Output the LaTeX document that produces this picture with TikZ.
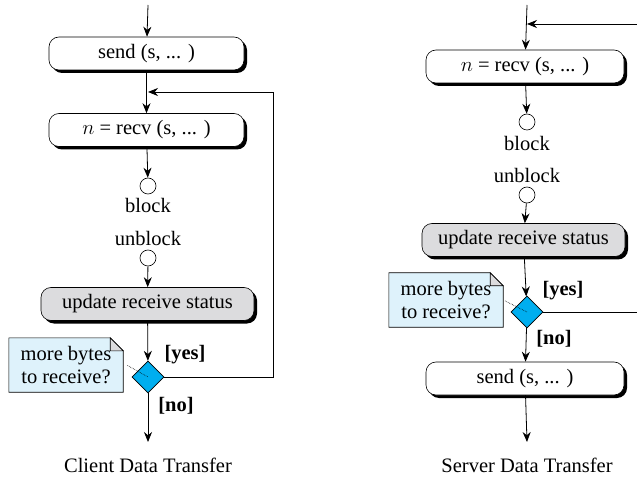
\documentclass[tikz,border=0pt]{standalone}
\usepackage{fontspec}
\setmainfont{Liberation Serif}
\usetikzlibrary{arrows.meta,shapes.geometric,shadows,backgrounds}
\definecolor{diamondblue}{RGB}{0,174,239}
\definecolor{notebg}{RGB}{222,242,251}
\definecolor{boxgrey}{RGB}{220,220,222}
\begin{document}
\begin{tikzpicture}[x=1pt,y=-1pt,font=\fontsize{20.5}{23}\selectfont,>={Stealth[length=10pt,width=8pt]},
  call/.style={draw,semithick,rounded corners=10pt,fill=white,minimum width=195pt,minimum height=33pt,inner sep=0pt,
    general shadow={fill=black,shadow xshift=3pt,shadow yshift=-3pt}},
  greycall/.style={call,fill=boxgrey},
  pin/.style={draw,semithick,circle,minimum size=16pt,inner sep=0pt,fill=white},
  choice/.style={draw,semithick,diamond,fill=diamondblue,minimum size=32pt,inner sep=0pt},
  note/.style={align=center,minimum width=114pt,minimum height=54pt,inner sep=0pt},
  flow/.style={->,thick},
  hint/.style={densely dotted,semithick}]
\useasboundingbox (0,0) rectangle (637,478);
% client side
\coordinate (c0) at (148,5);
\node[call] (csend) at (146.5,53.5) {send (s, ... )};
\node[call] (crecv) at (146.5,130) {$n$ = recv (s, ... )};
\node[pin] (cblk) at (148,186) {};
\node (cblktxt) at (148,205) {block};
\node (cublktxt) at (148,238) {unblock};
\node[pin] (cublk) at (148,258) {};
\node[greycall,minimum width=213pt] (cupd) at (147.5,304) {update receive status};
\node[choice] (cq) at (148,377) {};
\node[note] (cnote) at (66,365) {more bytes\\to receive?};
\coordinate (cend) at (148,442);
\coordinate (cjoin) at (148,92);
\coordinate (cloop) at (273,92);
\node[font=\fontsize{20.5}{23}\selectfont\bfseries] (cyes) at (185,355) {[yes]};
\node[font=\fontsize{20.5}{23}\selectfont\bfseries] (cno) at (176,406) {[no]};
\node (ccap) at (148,465) {Client Data Transfer};
\draw[flow] (c0) -- (csend);
\draw[flow] (csend) -- (crecv);
\draw[flow] (crecv) -- (cblk);
\draw[flow] (cublk) -- (cupd);
\draw[flow] (cupd) -- (cq);
\draw[flow] (cq) -- (cend);
\draw[flow] (cq.east) -| (cloop) -- (cjoin);
\draw[hint,shorten <=5pt] (cnote.east) ++(0,-2) -- (cq.center);
% server side
\coordinate (s0) at (527,5);
\node[call,minimum width=198pt] (srecv) at (525,66.5) {$n$ = recv (s, ... )};
\node[pin] (sblk) at (527,122) {};
\node (sblktxt) at (527,143) {block};
\node (sublktxt) at (527,175) {unblock};
\node[pin] (sublk) at (527,195) {};
\node[greycall,minimum width=203pt] (supd) at (523.5,240) {update receive status};
\node[choice] (sq) at (527,312) {};
\node[note] (snote) at (446,300) {more bytes\\to receive?};
\node[call,minimum width=198pt] (ssend) at (525,378.5) {send (s, ... )};
\coordinate (send) at (527,442);
\coordinate (sjoin) at (527,24);
\coordinate (sloopin) at (637,24);
\coordinate (sloopout) at (637,312);
\node[font=\fontsize{20.5}{23}\selectfont\bfseries] (syes) at (563,291) {[yes]};
\node[font=\fontsize{20.5}{23}\selectfont\bfseries] (sno) at (554,339) {[no]};
\node (scap) at (527,465) {Server Data Transfer};
\draw[flow] (s0) -- (srecv);
\draw[flow] (srecv) -- (sblk);
\draw[flow] (sublk) -- (supd);
\draw[flow] (supd) -- (sq);
\draw[flow] (sq) -- (ssend);
\draw[flow] (ssend) -- (send);
\draw[thick] (sq.east) -- (sloopout);
\draw[flow] (sloopin) -- (sjoin);
\draw[hint,shorten <=2pt] (snote.east) -- (sq.center);
% notes with folded corner
\begin{scope}[on background layer]
  \foreach \n in {cnote,snote} {
    \filldraw[fill=notebg,semithick] (\n.south west) -- (\n.north west) -- ([xshift=-13pt]\n.north east)
      -- ([yshift=-13pt]\n.north east) -- (\n.south east) -- cycle;
    \filldraw[fill=boxgrey,semithick] ([xshift=-13pt]\n.north east) -- ([xshift=-13pt,yshift=-13pt]\n.north east)
      -- ([yshift=-13pt]\n.north east) -- cycle;
  }
\end{scope}
\end{tikzpicture}
\end{document}
